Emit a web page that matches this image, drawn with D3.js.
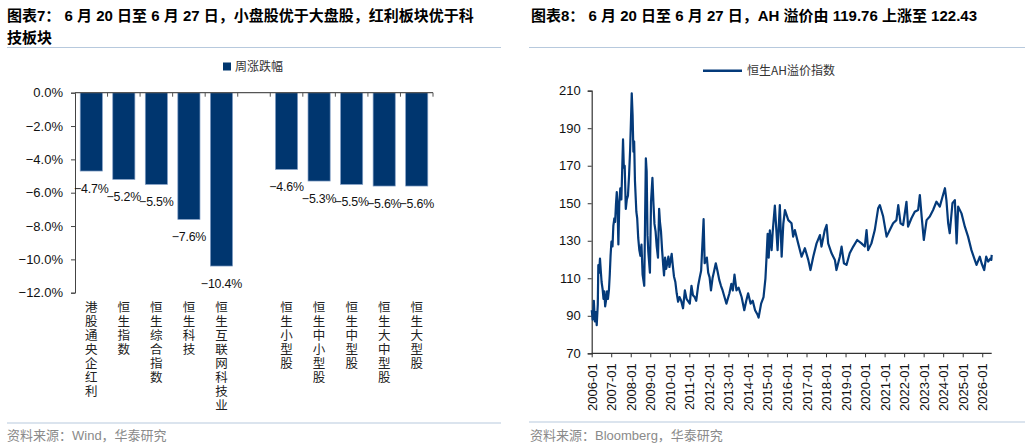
<!DOCTYPE html>
<html><head><meta charset="utf-8">
<script src="https://cdn.jsdelivr.net/npm/d3@7"></script>
<style>
body{margin:0;background:#fff;}
svg{display:block;}
text{font-family:"Liberation Sans","Noto Sans CJK SC",Arial,sans-serif;}
.cjk{font-family:"Noto Sans CJK SC",sans-serif;}
</style></head>
<body>
<svg id="c" width="1030" height="448"></svg>
<script>
// ---------- data: chart 7 ----------
const barCategories = ["港股通央企红利","恒生指数","恒生综合指数","恒生科技","恒生互联网科技业"," ","恒生小型股","恒生中小型股","恒生中型股","恒生大中型股","恒生大型股"];
const barValues = [-4.7,-5.2,-5.5,-7.6,-10.4,null,-4.6,-5.3,-5.5,-5.6,-5.6];
const barTicks = [0,-2,-4,-6,-8,-10,-12];
const barSeriesName = "周涨跌幅";

// ---------- data: chart 8 ----------
const ahSeriesName = "恒生AH溢价指数";
const ahDates = ["2006-01-02","2006-01-20","2006-02-10","2006-03-01","2006-03-20","2006-04-05","2006-04-25","2006-05-05","2006-05-20","2006-06-05","2006-06-20","2006-07-05","2006-07-25","2006-08-10","2006-08-25","2006-09-10","2006-09-25","2006-10-15","2006-11-01","2006-11-20","2006-12-05","2006-12-20",
"2007-01-05","2007-01-25","2007-02-10","2007-03-01","2007-03-15","2007-04-01","2007-04-15","2007-05-01","2007-05-15","2007-06-01","2007-06-20","2007-07-10","2007-08-10","2007-08-25","2007-09-10","2007-10-01","2007-10-20","2007-11-10","2007-12-01","2007-12-20",
"2008-01-20","2008-02-05","2008-02-20","2008-03-05","2008-03-20","2008-04-15","2008-05-01","2008-05-20","2008-06-10","2008-06-30","2008-07-20","2008-08-10","2008-09-10","2008-09-25","2008-10-10","2008-10-25","2008-11-10","2008-11-25","2008-12-25",
"2009-01-15","2009-02-10","2009-03-01","2009-03-20","2009-04-10","2009-05-01","2009-05-25","2009-06-15","2009-07-01","2009-07-20","2009-08-10","2009-08-30","2009-09-15","2009-10-05","2009-10-25","2009-11-15","2009-12-05","2009-12-25",
"2010-02-05","2010-02-25","2010-03-20","2010-04-15","2010-05-10","2010-06-05","2010-07-01","2010-08-01","2010-09-05","2010-10-10","2010-11-10",
"2011-01-10","2011-02-10","2011-03-10","2011-04-10","2011-05-10","2011-06-15","2011-07-15","2011-08-10","2011-09-25","2011-10-15","2011-11-25","2011-12-20",
"2012-01-15","2012-02-10","2012-03-10","2012-04-10","2012-05-10","2012-06-10","2012-07-15","2012-08-15","2012-09-15","2012-10-20","2012-11-25",
"2013-01-20","2013-02-25","2013-03-25","2013-04-25","2013-06-01","2013-07-10","2013-09-05","2013-10-25","2013-12-01",
"2014-01-05","2014-02-20","2014-04-01","2014-05-15","2014-07-01","2014-07-20","2014-09-05","2014-10-20","2014-11-25","2014-12-15",
"2015-01-05","2015-01-25","2015-02-15","2015-03-20","2015-04-10","2015-05-20","2015-07-10","2015-08-21","2015-09-24","2015-10-25","2015-11-25",
"2016-01-26","2016-03-27","2016-04-26","2016-05-28","2016-07-29","2016-10-01","2016-12-02",
"2017-02-03","2017-03-16","2017-05-07","2017-07-08","2017-09-09","2017-10-08","2017-12-09",
"2018-01-12","2018-02-10","2018-04-15","2018-06-16","2018-07-15","2018-09-16","2018-10-19","2018-12-02",
"2019-01-19","2019-03-20","2019-05-25","2019-08-07","2019-10-26","2019-12-27",
"2020-01-29","2020-02-28","2020-04-29","2020-07-01","2020-09-02","2020-10-04","2020-12-05",
"2021-02-07","2021-04-08","2021-06-09","2021-08-10","2021-09-13","2021-10-26","2021-12-13",
"2022-02-14","2022-03-16","2022-05-18","2022-07-19","2022-09-20","2022-10-22","2022-11-25",
"2023-01-04","2023-02-25","2023-04-26","2023-06-27","2023-08-28","2023-10-30","2023-12-20",
"2024-02-03","2024-03-02","2024-04-04","2024-05-03","2024-06-23","2024-08-07","2024-09-09","2024-10-08","2024-12-09",
"2025-02-10","2025-04-11","2025-06-13","2025-08-14","2025-09-16","2025-11-17","2025-12-20",
"2026-02-07","2026-03-16","2026-04-22","2026-06-05","2026-06-20","2026-06-27"];
const ahValues = [93,88,98,87,92,85,96,117,113,120.5,114,108,104,99,103,95,98,103,99,104,112,122,
129.5,127,138,142,140,150,156,147,128,150,158,152,184,169,170,147,152,154,165,178,
208.6,197,177.5,183,162,145.5,142,131.5,125,122,128,112,106,140,174,167,133,124,113,
151,163.5,150,139,135,127,121,147,140,135,125,117,111.5,121,115,118,121.5,116,
123,117,111,108,102,97.5,100,98,94,103.5,99,
96.5,106,101,100,98,106,110.5,114,141.5,118,121,113,
110.5,103.5,110,114,118,114,109,106,103.5,100,96.5,
102,107,103.5,112,103.5,105,100,93,98,
102,96.5,98,93,90.5,89,96.5,100,110,121,
133.7,121,135.5,125,135,148.8,125,149,121.5,139,146.4,
141,139.3,132.2,135.7,128.6,121.5,126,
119.8,114.4,121.5,128.6,133,126.9,135.7,
138.4,128.6,123.3,119.8,114.4,121.5,126.9,118,
117.1,123.3,126.9,130.4,128.6,126.9,
135.7,125,128.6,135.7,147.3,149,142.9,
132.2,135.7,139.3,141,149,139.3,138.4,
150.8,137.5,142,145.5,146.4,154.4,142.9,
130.4,141,142.9,146.4,150.8,148.2,153.5,
158,151.7,139.3,134,150,151.7,128.6,148.2,144.6,
137.5,132.2,125,119.8,117.1,121.5,118,
114.4,121.5,118.9,120.6,119.76,122.43];
const ahTicks = [70,90,110,130,150,170,190,210];

// ---------- drawing ----------
const svg = d3.select("#c");
const navy = "#00366F";
const ruleColor = "#B7C9DD";

// titles
svg.append("text").attr("x",7).attr("y",21).attr("font-size",15).attr("font-weight","bold").attr("fill","#000")
  .text("图表7： 6 月 20 日至 6 月 27 日，小盘股优于大盘股，红利板块优于科");
svg.append("text").attr("x",7).attr("y",43).attr("font-size",15).attr("font-weight","bold").attr("fill","#000")
  .text("技板块");
svg.append("text").attr("x",531).attr("y",21).attr("font-size",15).attr("font-weight","bold").attr("fill","#000")
  .text("图表8： 6 月 20 日至 6 月 27 日，AH 溢价由 119.76 上涨至 122.43");
svg.append("line").attr("x1",7).attr("x2",501).attr("y1",47.5).attr("y2",47.5).attr("stroke",ruleColor).attr("stroke-width",1.2);
svg.append("line").attr("x1",529).attr("x2",1025).attr("y1",47.5).attr("y2",47.5).attr("stroke",ruleColor).attr("stroke-width",1.2);
// footers
svg.append("line").attr("x1",7).attr("x2",501).attr("y1",423).attr("y2",423).attr("stroke",ruleColor).attr("stroke-width",1.2);
svg.append("line").attr("x1",529).attr("x2",1025).attr("y1",422).attr("y2",422).attr("stroke",ruleColor).attr("stroke-width",1.2);
svg.append("text").attr("x",7).attr("y",440).attr("font-size",13).attr("fill","#8a8a8a").text("资料来源：Wind，华泰研究");
svg.append("text").attr("x",530).attr("y",440).attr("font-size",13).attr("fill","#8a8a8a").text("资料来源：Bloomberg，华泰研究");

// ---------- chart 7 ----------
const bx = d3.scaleBand().domain(barCategories).range([75,433]).paddingInner(0.32).paddingOuter(0.16);
const by = d3.scaleLinear().domain([-12,0]).range([292.7,92.7]);
const g1 = svg.append("g");

const yAx = g1.append("g").attr("transform","translate(75,0)")
  .call(d3.axisLeft(by).tickValues(barTicks).tickSize(4).tickFormat(d=>d3.format(".1f")(d)+"%"));
yAx.select(".domain").attr("stroke","#444");
yAx.selectAll(".tick line").attr("stroke","#444");
yAx.selectAll(".tick text").attr("font-size",13).attr("fill","#111").attr("x",-12).attr("font-family","Liberation Sans, Arial, sans-serif");

const barData = barCategories.map((c,i)=>({c,v:barValues[i]})).filter(d=>d.v!==null);
g1.selectAll("rect.bar").data(barData)
  .enter().append("rect").attr("class","bar")
  .attr("x",d=>bx(d.c)).attr("width",bx.bandwidth())
  .attr("y",by(0)).attr("height",d=>by(d.v)-by(0))
  .attr("fill",navy).attr("stroke","#7F9CC4").attr("stroke-width",0.7);

g1.append("line").attr("x1",75).attr("x2",433).attr("y1",by(0)).attr("y2",by(0)).attr("stroke","#555").attr("stroke-width",1.2);
const step = bx.step();
barCategories.forEach(c=>{
  const xt = bx(c)+bx.bandwidth()/2+step/2;
  g1.append("line").attr("x1",xt).attr("x2",xt).attr("y1",by(0)).attr("y2",by(0)+4).attr("stroke","#555");
});

g1.selectAll("text.val").data(barData)
  .enter().append("text").attr("class","val")
  .attr("x",d=>bx(d.c)+bx.bandwidth()/2).attr("y",d=>by(d.v)+22)
  .attr("text-anchor","middle").attr("font-size",12.4).attr("letter-spacing","-0.2px").attr("fill","#111")
  .text(d=>d3.format(".1f")(d.v)+"%");

// vertical category labels (one text each, vertical writing mode)
barCategories.filter(c=>c.trim()!=="").forEach(c=>{
  g1.append("text").attr("class","cjk")
    .attr("x",bx(c)+bx.bandwidth()/2).attr("y",301)
    .attr("writing-mode","vertical-rl")
    .style("letter-spacing","1.5px")
    .attr("font-size",12.5).attr("fill","#222").text(c);
});

g1.append("rect").attr("x",223).attr("y",62.5).attr("width",8).attr("height",8).attr("fill",navy);
g1.append("text").attr("class","cjk").attr("x",235).attr("y",71).attr("font-size",12).attr("fill","#333").text(barSeriesName);

// ---------- chart 8 ----------
const parse = d3.timeParse("%Y-%m-%d");
const ahData = ahDates.map((d,i)=>({d:parse(d),v:ahValues[i]}));
const lx = d3.scaleTime().domain([parse("2006-01-01"),parse("2026-06-27")]).range([591.7,991.7]);
const ly = d3.scaleLinear().domain([70,210]).range([353.3,90.7]);
const g2 = svg.append("g");

const yAx2 = g2.append("g").attr("transform","translate(591.7,0)")
  .call(d3.axisLeft(ly).tickValues(ahTicks).tickSize(4).tickFormat(d3.format("d")));
yAx2.select(".domain").attr("stroke","#333").attr("stroke-width",1.2);
yAx2.selectAll(".tick line").attr("stroke","#333");
yAx2.selectAll(".tick text").attr("font-size",13).attr("fill","#111").attr("x",-11).attr("font-family","Liberation Sans, Arial, sans-serif");

const yearTicks = d3.range(2006,2027).map(y=>new Date(y,0,1));
const xAx2 = g2.append("g").attr("transform","translate(0,353.3)")
  .call(d3.axisBottom(lx).tickValues(yearTicks).tickSize(4).tickFormat(d3.timeFormat("%Y-%m")));
xAx2.select(".domain").attr("stroke","#333").attr("stroke-width",1.2).attr("d","M591.7,0H991.7");
xAx2.selectAll(".tick line").attr("stroke","#333");
xAx2.selectAll(".tick text").attr("font-size",13).attr("fill","#111").attr("font-family","Liberation Sans, Arial, sans-serif")
  .attr("transform","rotate(-90)").attr("text-anchor","end").attr("x",-10).attr("y",0).attr("dy","0.35em");

g2.append("path").datum(ahData)
  .attr("d",d3.line().x(d=>lx(d.d)).y(d=>ly(d.v)))
  .attr("fill","none").attr("stroke","#043A7A").attr("stroke-width",2.2).attr("stroke-linejoin","round");

g2.append("line").attr("x1",703).attr("x2",742).attr("y1",70.7).attr("y2",70.7).attr("stroke","#043A7A").attr("stroke-width",2.5);
g2.append("text").attr("class","cjk").attr("x",747).attr("y",75).attr("font-size",12).attr("fill","#333").text(ahSeriesName);
</script>
</body></html>
